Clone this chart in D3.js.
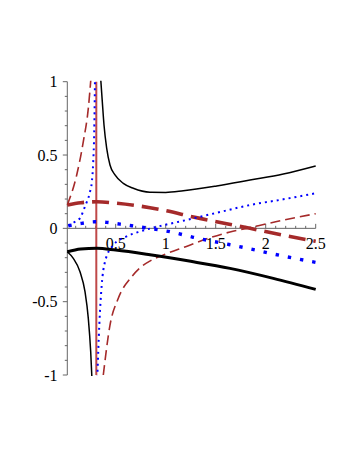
<!DOCTYPE html>
<html>
<head>
<meta charset="utf-8">
<script src="https://cdn.jsdelivr.net/npm/d3@7"></script>
<style>
  body { margin: 0; background: #fff; }
</style>
</head>
<body>
<div id="chart"></div>
<script>
// values, [x, y] pairs
var blackThinLeft  = [[0.016,-0.16],[0.076,-0.205],[0.143,-0.296],[0.193,-0.432],[0.226,-0.614],[0.25,-0.842],[0.262,-1.02]];
var blackThinRight = [[0.35,1.02],[0.366,0.864],[0.383,0.705],[0.41,0.546],[0.443,0.432],[0.493,0.364],[0.576,0.307],[0.676,0.273],[0.843,0.246],[1.0,0.245],[1.176,0.256],[1.51,0.289],[1.843,0.329],[2.176,0.37],[2.5,0.425]];
var blackThick     = [[0.016,-0.16],[0.15,-0.141],[0.31,-0.136],[0.5,-0.148],[0.843,-0.18],[1.25,-0.225],[1.643,-0.273],[2.076,-0.341],[2.5,-0.416]];

var brownThinLeft  = [[0.016,0.159],[0.11,0.364],[0.176,0.591],[0.226,0.818],[0.252,1.02]];
var brownThinRight = [[0.376,-1.0],[0.443,-0.66],[0.526,-0.477],[0.66,-0.33],[0.75,-0.265],[0.85,-0.22],[1.0,-0.175],[1.2,-0.125],[1.46,-0.06],[1.643,-0.025],[1.81,0.0],[2.1,0.045],[2.5,0.1]];
var brownThick     = [[0.016,0.159],[0.15,0.175],[0.31,0.181],[0.5,0.172],[0.843,0.141],[1.343,0.068],[1.843,0.0],[2.2,-0.05],[2.5,-0.088]];

var blueThinLeft   = [[0.026,0.02],[0.08,0.04],[0.143,0.07],[0.193,0.15],[0.243,0.25],[0.262,0.32],[0.275,0.45],[0.285,0.65],[0.293,1.02]];
var blueThinRight  = [[0.316,-1.02],[0.336,-0.66],[0.36,-0.387],[0.393,-0.228],[0.476,-0.114],[0.61,-0.055],[0.75,-0.02],[0.85,0.0],[1.0,0.025],[1.176,0.052],[1.51,0.106],[1.843,0.159],[2.176,0.198],[2.5,0.239]];
var blueThick      = [[0.026,0.018],[0.16,0.034],[0.293,0.045],[0.41,0.041],[0.543,0.029],[0.66,0.018],[0.793,0.004],[1.043,-0.023],[1.276,-0.061],[1.543,-0.098],[1.776,-0.13],[2.16,-0.187],[2.5,-0.232]];

var poleX = 0.306;   // the vertical jump line

var xTicks = [0.5, 1, 1.5, 2, 2.5],
    xTickLabels = ["0.5", "1", "1.5", "2", "2.5"],
    yTicks = [-1, -0.5, 0, 0.5, 1],
    yTickLabels = ["-1", "-0.5", "0", "0.5", "1"];

var width = 354, height = 458;

var svg = d3.select("#chart").append("svg")
    .attr("width", width)
    .attr("height", height);

var x = d3.scaleLinear().domain([0.016, 2.5]).range([67.3, 315.7]);
var y = d3.scaleLinear().domain([-1, 1]).range([375, 81.7]);

var axisColor = "#666";

//clip the curves to the plot box
svg.append("clipPath").attr("id", "box")
  .append("rect")
    .attr("x", x(0.016) - 1)
    .attr("y", y(1) - 1)
    .attr("width", x(2.5) - x(0.016) + 3)
    .attr("height", y(-1) - y(1) + 2);

// y axis
var minorY = d3.range(-10, 11).map(function(i) { return i / 10; });
svg.append("line")
    .attr("x1", x(0.016)).attr("x2", x(0.016))
    .attr("y1", y(-1)).attr("y2", y(1))
    .style("stroke", axisColor).style("stroke-width", 1);
svg.selectAll(".ytick")
    .data(minorY)
    .enter().append("line")
    .attr("class", "ytick")
    .attr("x1", x(0.016))
    .attr("x2", function(d) { return x(0.016) - (Math.abs(d * 2 - Math.round(d * 2)) < 1e-6 ? 4.5 : 2.5); })
    .attr("y1", function(d) { return y(d); })
    .attr("y2", function(d) { return y(d); })
    .style("stroke", axisColor).style("stroke-width", 1);
svg.selectAll(".ylab")
    .data(yTicks)
    .enter().append("text")
    .attr("class", "ylab")
    .attr("x", 57.5)
    .attr("y", function(d) { return y(d) + 5.5; })
    .attr("text-anchor", "end")
    .attr("font-family", "Liberation Serif, serif")
    .attr("font-size", 16)
    .text(function(d, i) { return yTickLabels[i]; });

// x axis
var minorX = d3.range(1, 26).map(function(i) { return i / 10; });
svg.append("line")
    .attr("x1", x(0.016)).attr("x2", x(2.5))
    .attr("y1", y(0)).attr("y2", y(0))
    .style("stroke", axisColor).style("stroke-width", 1);
svg.selectAll(".xtick")
    .data(minorX)
    .enter().append("line")
    .attr("class", "xtick")
    .attr("x1", function(d) { return x(d); })
    .attr("x2", function(d) { return x(d); })
    .attr("y1", y(0))
    .attr("y2", function(d) { return y(0) - (Math.abs(d * 2 - Math.round(d * 2)) < 1e-6 ? 4.5 : 2.5); })
    .style("stroke", axisColor).style("stroke-width", 1);
svg.selectAll(".xlab")
    .data(xTicks)
    .enter().append("text")
    .attr("class", "xlab")
    .attr("x", function(d) { return x(d); })
    .attr("y", y(0) + 21)
    .attr("text-anchor", "middle")
    .attr("font-family", "Liberation Serif, serif")
    .attr("font-size", 16)
    .text(function(d, i) { return xTickLabels[i]; });

// the curves
var line = d3.line()
    .curve(d3.curveMonotoneX)
    .x(function(d) { return x(d[0]); })
    .y(function(d) { return y(d[1]); });

var plot = svg.append("g").attr("clip-path", "url(#box)");

plot.append("line")
    .attr("x1", x(poleX)).attr("x2", x(poleX))
    .attr("y1", y(-1)).attr("y2", y(1))
    .style("stroke", "#bf4848").style("stroke-width", 2);

var series = [
    { data: brownThinLeft,  color: "#a52a2a", w: 1.6, dash: "10,5" },
    { data: brownThinRight, color: "#a52a2a", w: 1.6, dash: "10,5" },
    { data: brownThick,     color: "#a52a2a", w: 3.6, dash: "17,8" },
    { data: blueThinLeft,   color: "#0000ff", w: 2,   dash: "2,4" },
    { data: blueThinRight,  color: "#0000ff", w: 2,   dash: "2,4" },
    { data: blueThick,      color: "#0000ff", w: 3.4, dash: "3.4,9" },
    { data: blackThinLeft,  color: "#000",    w: 1.5, dash: null },
    { data: blackThinRight, color: "#000",    w: 1.5, dash: null },
    { data: blackThick,     color: "#000",    w: 3,   dash: null }
];

plot.selectAll(".curve")
    .data(series)
    .enter().append("path")
    .attr("class", "curve")
    .attr("d", function(d) { return line(d.data); })
    .style("fill", "none")
    .style("stroke", function(d) { return d.color; })
    .style("stroke-width", function(d) { return d.w; })
    .style("stroke-dasharray", function(d) { return d.dash; });
</script>
</body>
</html>
